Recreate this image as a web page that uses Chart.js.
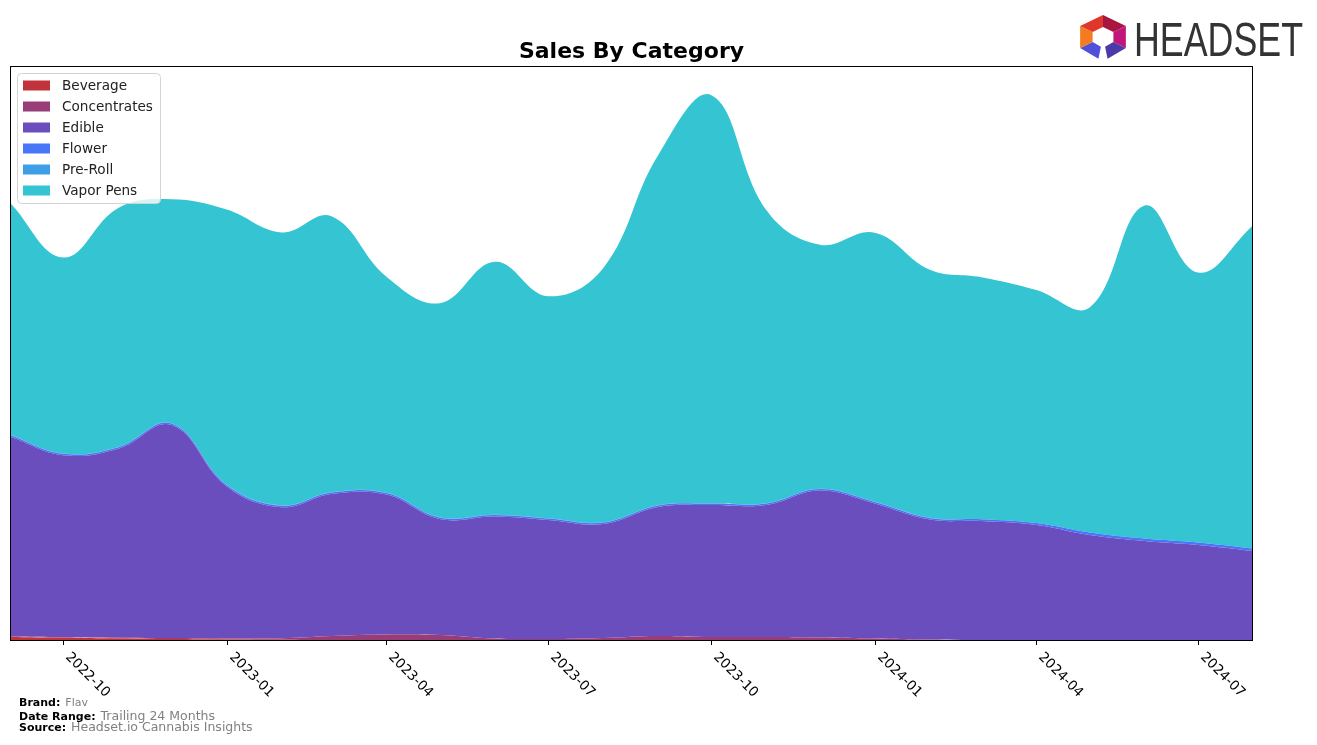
<!DOCTYPE html>
<html>
<head>
<meta charset="utf-8">
<title>Sales By Category</title>
<script src="https://cdn.jsdelivr.net/npm/chart.js@4.4.1/dist/chart.umd.min.js"></script>
<style>
  html, body { margin: 0; padding: 0; background: #fff; }
  canvas { display: block; }
</style>
</head>
<body>
<canvas id="salesChart" width="1317" height="745"></canvas>
<script>
// months (first day of each month)
const months = ['2022-09','2022-10','2022-11','2022-12','2023-01','2023-02','2023-03','2023-04',
                '2023-05','2023-06','2023-07','2023-08','2023-09','2023-10','2023-11','2023-12',
                '2024-01','2024-02','2024-03','2024-04','2024-05','2024-06','2024-07','2024-08'];

const beverage     = [3, 2.2, 1.5, 1, 0.6, 0.3, 0, 0, 0, 0, 0, 0, 0, 0, 0, 0, 0, 0, 0, 0, 0, 0, 0, 0];
const concentrates = [0.5, 0.5, 0.8, 1, 1, 1.5, 4, 5.5, 5, 1.5, 1, 2, 4, 3, 3, 2.5, 1.5, 0.5, 0, 0, 0, 0, 0, 0];
const edible       = [200, 182, 189, 213, 152, 131, 142, 140, 116, 122, 119, 114, 129, 132, 132, 147, 135, 120, 119, 115, 105, 99, 95, 89];
const flower       = [1.5, 1.5, 1.5, 1.5, 1.5, 1.5, 1.5, 1.5, 1.5, 1.5, 1.5, 1.5, 1.5, 1.5, 1.5, 1.5, 1.5, 1.5, 1.8, 2, 2.5, 2.5, 2.5, 2.5];
const preRoll      = [0.3, 0.3, 0.3, 0.3, 0.3, 0.3, 0.3, 0.3, 0.3, 0.3, 0.3, 0.3, 0.3, 0.3, 0.3, 0.3, 0.3, 0.3, 0, 0, 0, 0, 0, 0];
const vaporPens    = [232, 196, 239, 224, 275, 273, 276, 216, 214, 253, 222, 254, 350, 408, 293, 244, 269, 248, 242, 233, 225, 333, 270, 323];

const tickLabels = ['2022-10','2023-01','2023-04','2023-07','2023-10','2024-01','2024-04','2024-07'];

const seriesNames  = ['Beverage','Concentrates','Edible','Flower','Pre-Roll','Vapor Pens'];
const seriesColors = ['#c0333a','#983d78','#6a4ebd','#4876f9','#3d9fe8','#34c4d2'];

function dayOf(ym){
    const p = ym.split('-');
    return (Date.UTC(+p[0], +p[1] - 1, 1) - Date.UTC(2022, 8, 1)) / 86400000;
}

function toPoints(arr){
    return arr.map(function(v, i){ return { x: dayOf(months[i]), y: v }; });
}

const seriesData = [beverage, concentrates, edible, flower, preRoll, vaporPens];

const datasets = seriesData.map(function(arr, i){
    return {
        label: seriesNames[i],
        data: toPoints(arr),
        backgroundColor: seriesColors[i],
        borderColor: seriesColors[i],
        borderWidth: 0,
        pointRadius: 0,
        tension: 0.4,
        fill: i === 0 ? 'origin' : '-1'
    };
});

/* =========================
   EXTRA DRAWING (frame, ticks, legend, texts, logo)
========================= */
const decorations = {
    id: 'decorations',
    beforeDraw(chart){
        const ctx = chart.ctx;
        ctx.save();
        ctx.fillStyle = '#fff';
        ctx.fillRect(0, 0, chart.width, chart.height);
        ctx.restore();
    },
    afterDraw(chart){
        const ctx = chart.ctx;
        const area = chart.chartArea;
        const xs = chart.scales.x;

        ctx.save();

        // frame
        ctx.strokeStyle = '#000';
        ctx.lineWidth = 1;
        ctx.strokeRect(area.left + 0.5, area.top + 0.5, area.right - area.left - 1, area.bottom - area.top);

        // x ticks
        ctx.fillStyle = '#000';
        ctx.font = '13.6px "DejaVu Sans"';
        tickLabels.forEach(function(lab){
            const x = Math.round(xs.getPixelForValue(dayOf(lab))) + 0.5;
            ctx.beginPath();
            ctx.moveTo(x, area.bottom);
            ctx.lineTo(x, area.bottom + 5);
            ctx.stroke();
            ctx.save();
            ctx.translate(x + 4, area.bottom + 15);
            ctx.rotate(Math.PI / 4);
            ctx.textAlign = 'left';
            ctx.textBaseline = 'middle';
            ctx.fillText(lab, 0, 0);
            ctx.restore();
        });

        // title
        ctx.font = 'bold 22px "DejaVu Sans"';
        ctx.textAlign = 'center';
        ctx.textBaseline = 'alphabetic';
        ctx.fillStyle = '#000';
        ctx.fillText('Sales By Category', (area.left + area.right) / 2, 58);

        // legend box
        const lx = 17, ly = 73, lw = 143, lh = 130;
        ctx.beginPath();
        ctx.roundRect(lx + 0.5, ly + 0.5, lw, lh, 4);
        ctx.fillStyle = 'rgba(255,255,255,0.8)';
        ctx.fill();
        ctx.strokeStyle = '#d3d3d3';
        ctx.stroke();

        ctx.font = '13.6px "DejaVu Sans"';
        ctx.textAlign = 'left';
        ctx.textBaseline = 'middle';
        chart.data.datasets.forEach(function(ds, i){
            const cy = 85.5 + i * 21;
            ctx.fillStyle = ds.backgroundColor;
            ctx.fillRect(23, cy - 5, 27, 10);
            ctx.fillStyle = '#222';
            ctx.fillText(ds.label, 62, cy + 0.5);
        });

        // footer
        const footer = [
            ['Brand:', 'Flav', 706, '11px'],
            ['Date Range:', 'Trailing 24 Months', 720, '12.5px'],
            ['Source:', 'Headset.io Cannabis Insights', 731, '12.5px']
        ];
        ctx.textBaseline = 'alphabetic';
        footer.forEach(function(row){
            ctx.font = 'bold 11px "DejaVu Sans"';
            ctx.fillStyle = '#000';
            ctx.fillText(row[0], 19, row[2]);
            const w = ctx.measureText(row[0]).width;
            ctx.font = row[3] + ' "DejaVu Sans"';
            ctx.fillStyle = '#808080';
            ctx.fillText(row[1], 19 + w + 5, row[2]);
        });

        // logo icon
        const cx = 1103, cyc = 37, R = 22, r = 10;
        const segs = [
            [-90, -30, '#a8163f'],
            [-30, 30, '#c2177a'],
            [30, 80, '#4b3aa8'],
            [100, 150, '#4f4fd8'],
            [150, 210, '#f47b20'],
            [210, 270, '#e0362b']
        ];
        ctx.save();
        ctx.translate(cx, cyc);
        ctx.scale(1.2, 1);
        segs.forEach(function(s){
            const a0 = s[0] * Math.PI / 180, a1 = s[1] * Math.PI / 180;
            ctx.beginPath();
            ctx.moveTo(R * Math.cos(a0), R * Math.sin(a0));
            ctx.lineTo(R * Math.cos(a1), R * Math.sin(a1));
            ctx.lineTo(r * Math.cos(a1), r * Math.sin(a1));
            ctx.lineTo(r * Math.cos(a0), r * Math.sin(a0));
            ctx.closePath();
            ctx.fillStyle = s[2];
            ctx.fill();
        });
        ctx.restore();

        // logo text
        ctx.font = '49px "Liberation Sans Narrow", "Liberation Sans", sans-serif';
        ctx.fillStyle = '#333';
        ctx.textAlign = 'left';
        const tw = ctx.measureText('HEADSET').width;
        ctx.save();
        ctx.translate(1134, 56);
        ctx.scale(169 / tw, 1);
        ctx.fillText('HEADSET', 0, 0);
        ctx.restore();

        ctx.restore();
    }
};

new Chart(document.getElementById('salesChart'), {
    type: 'line',
    data: { datasets: datasets },
    options: {
        responsive: false,
        devicePixelRatio: 1,
        animation: false,
        layout: { padding: { left: 10, right: 64, top: 66, bottom: 105 } },
        plugins: {
            legend: { display: false },
            title: { display: false },
            tooltip: { enabled: false }
        },
        scales: {
            x: {
                type: 'linear',
                min: dayOf(months[0]),
                max: dayOf(months[months.length - 1]),
                display: false
            },
            y: {
                stacked: true,
                min: 0,
                max: 574,
                display: false
            }
        }
    },
    plugins: [decorations]
});
</script>
</body>
</html>
